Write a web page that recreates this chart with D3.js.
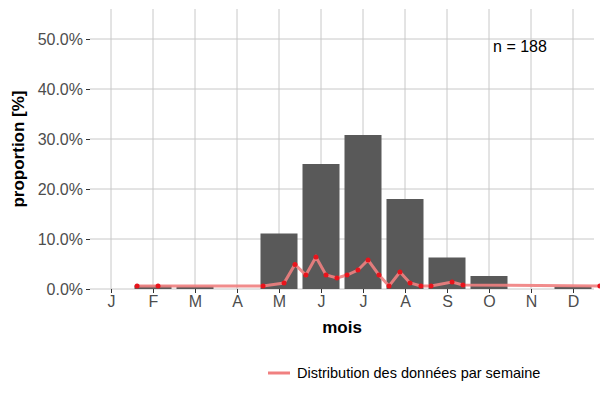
<!DOCTYPE html>
<html><head><meta charset="utf-8">
<script src="https://cdn.jsdelivr.net/npm/d3@7"></script>
<style>body{margin:0;font-family:"Liberation Sans",Arial,sans-serif}</style>
</head><body><svg width="600" height="400"></svg>
<script>
var months = ["J","F","M","A","M","J","J","A","S","O","N","D"];
var monthProp = [0, 0.7, 0.5, 0, 11.1, 25.0, 30.8, 18.0, 6.3, 2.6, 0, 0.5];
var weekPos = [0.62, 1.12, 3.62, 4.12, 4.38, 4.64, 4.88, 5.12, 5.38, 5.62, 5.88, 6.12, 6.38, 6.62, 6.88, 7.12, 7.38, 7.62, 8.12, 8.38, 11.64];
var weekProp = [0.6, 0.6, 0.6, 1.2, 4.9, 2.8, 6.4, 2.8, 2.2, 2.8, 3.8, 5.8, 2.8, 0.6, 3.4, 1.2, 0.6, 0.6, 1.4, 0.8, 0.6];
var yTicks = [0, 10, 20, 30, 40, 50];

var svg = d3.select("svg");
var x = d3.scaleLinear().domain([0, 11]).range([111, 573]);
var y = d3.scaleLinear().domain([0, 56]).range([289, 9]);

var g = svg.append("g");
g.selectAll(".vg").data(d3.range(12)).join("line")
  .attr("x1", d => x(d)).attr("x2", d => x(d)).attr("y1", 9).attr("y2", 289)
  .attr("stroke", "#c8c8c8").attr("stroke-width", 1);
g.selectAll(".hg").data(yTicks).join("line")
  .attr("x1", 90).attr("x2", 594).attr("y1", d => y(d)).attr("y2", d => y(d))
  .attr("stroke", "#c8c8c8").attr("stroke-width", 1);

var bw = 37 / 42;
g.selectAll(".bar").data(monthProp).join("rect")
  .attr("x", (d, i) => x(i - bw / 2)).attr("width", x(bw) - x(0))
  .attr("y", d => y(d)).attr("height", d => y(0) - y(d))
  .attr("fill", "#595959");

var line = d3.line().x(d => x(d[0])).y(d => y(d[1]));
var pts = weekPos.map((p, i) => [p, weekProp[i]]);
g.append("path").attr("d", line(pts)).attr("fill", "none")
  .attr("stroke", "#f08080").attr("stroke-width", 3).attr("opacity", 0.9);
g.selectAll(".pt").data(pts).join("circle")
  .attr("cx", d => x(d[0])).attr("cy", d => y(d[1])).attr("r", 2.5).attr("fill", "#e8141c");

var yAxis = svg.append("g").attr("transform", "translate(90,0)")
  .call(d3.axisLeft(y).tickValues(yTicks).tickFormat(d => d.toFixed(1) + "%").tickSize(4));
yAxis.select(".domain").remove();
yAxis.selectAll("text").attr("font-size", 16).attr("fill", "#4d4d4d").attr("font-family", "Liberation Sans");
yAxis.selectAll("line").attr("stroke", "#333");

var xAxis = svg.append("g").attr("transform", "translate(0,289)")
  .call(d3.axisBottom(x).tickValues(d3.range(12)).tickFormat(d => months[d]).tickSize(4));
xAxis.select(".domain").remove();
xAxis.selectAll("text").attr("font-size", 16).attr("fill", "#4d4d4d").attr("font-family", "Liberation Sans");
xAxis.selectAll("line").attr("stroke", "#333");

svg.append("text").attr("x", 342).attr("y", 333).attr("text-anchor", "middle")
  .attr("font-size", 17).attr("font-weight", "bold").text("mois");
svg.append("text").attr("transform", "translate(24,149) rotate(-90)").attr("text-anchor", "middle")
  .attr("font-size", 17).attr("font-weight", "bold").text("proportion [%]");
svg.append("text").attr("x", 520).attr("y", 52).attr("text-anchor", "middle")
  .attr("font-size", 16).text("n = 188");

svg.append("line").attr("x1", 268).attr("x2", 290).attr("y1", 373).attr("y2", 373)
  .attr("stroke", "#f08080").attr("stroke-width", 3);
svg.append("text").attr("x", 297).attr("y", 378).attr("font-size", 14.5)
  .text("Distribution des données par semaine");
</script></body></html>
